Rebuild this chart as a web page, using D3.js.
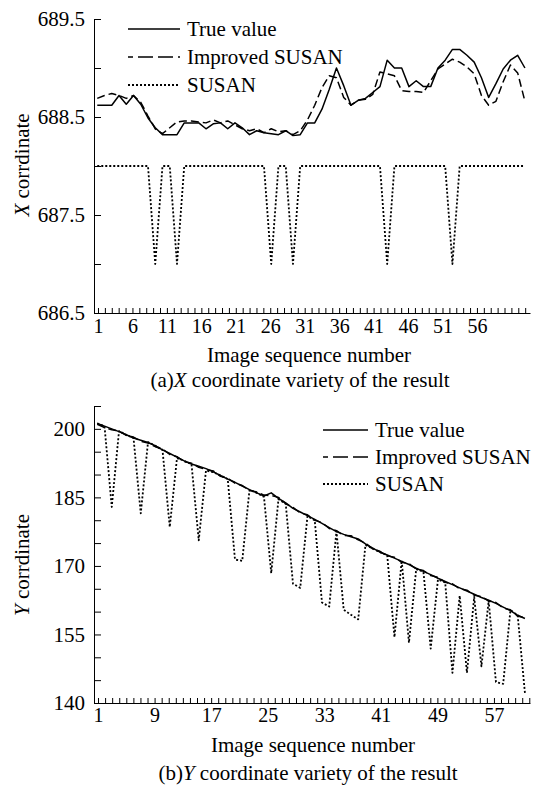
<!DOCTYPE html>
<html><head><meta charset="utf-8">
<script src="https://cdn.jsdelivr.net/npm/d3@7"></script>
<style>
body{margin:0;background:#fff}
svg{display:block}
text{font-family:"Liberation Serif","Times New Roman",serif;fill:#000}
</style>
</head><body>
<svg id="c" width="536" height="788"></svg>
<script>
const imageNo = [1,2,3,4,5,6,7,8,9,10,11,12,13,14,15,16,17,18,19,20,21,22,23,24,25,26,27,28,29,30,
  31,32,33,34,35,36,37,38,39,40,41,42,43,44,45,46,47,48,49,50,51,52,53,54,55,56,57,58,59,60];

// (a) X coordinate
const xTrueA = [688.62,688.62,688.62,688.72,688.63,688.72,688.63,688.49,688.39,688.32,
  688.32,688.32,688.44,688.44,688.44,688.38,688.43,688.44,688.38,688.44,
  688.39,688.32,688.36,688.34,688.33,688.32,688.36,688.31,688.32,688.44,
  688.44,688.58,688.78,689.00,688.82,688.62,688.67,688.69,688.75,688.81,
  689.08,689.00,689.00,688.81,688.87,688.81,688.81,689.00,689.08,689.19,
  689.19,689.13,689.06,688.90,688.70,688.84,688.99,689.08,689.13,689.00];
const xImprovedA = [688.69,688.72,688.74,688.72,688.69,688.72,688.65,688.51,688.38,688.33,
  688.39,688.45,688.46,688.46,688.45,688.44,688.47,688.44,688.46,688.42,
  688.38,688.36,688.38,688.34,688.38,688.35,688.36,688.32,688.36,688.47,
  688.62,688.80,688.92,688.90,688.70,688.62,688.67,688.68,688.73,688.96,
  688.94,688.92,688.77,688.76,688.76,688.75,688.87,688.99,689.04,689.09,
  689.06,689.01,688.94,688.72,688.62,688.66,688.86,689.03,688.95,688.66];
const xSusanA = [688,688,688,688,688,688,688,688,687,688,
  688,687,688,688,688,688,688,688,688,688,
  688,688,688,688,687,688,688,687,688,688,
  688,688,688,688,688,688,688,688,688,688,
  687,688,688,688,688,688,688,688,688,687,
  688,688,688,688,688,688,688,688,688,688];

// (b) Y coordinate
const yTrueB = [201.2,200.6,200.0,199.4,198.7,198.0,197.5,197.0,196.3,195.4,
  194.6,193.8,193.0,192.3,191.8,191.3,190.6,189.8,189.0,188.3,
  187.5,186.7,186.0,185.3,186.0,184.8,183.8,182.6,181.8,181.0,
  180.2,179.3,178.4,177.5,176.9,176.4,175.9,174.8,173.9,173.0,
  172.4,171.7,171.0,170.3,169.5,168.8,168.1,167.3,166.6,165.9,
  165.2,164.5,163.8,163.1,162.5,161.8,161.0,160.2,159.2,158.5];
const yImprovedB = [201.0,200.3,199.8,199.5,198.6,198.2,197.3,196.9,196.1,195.6,
  194.4,193.9,192.8,192.5,191.6,191.1,190.8,189.6,189.2,188.1,
  187.6,186.5,186.2,185.5,185.4,185.0,183.6,182.8,181.6,181.2,
  180.0,179.5,178.2,177.7,176.7,176.6,175.7,175.0,173.7,173.2,
  172.2,171.9,170.8,170.5,169.3,169.0,167.9,167.5,166.4,166.1,
  165.0,164.7,163.6,163.3,162.3,162.0,160.8,160.4,159.0,158.7];
const ySusanB = [201.2,200.6,182.9,199.5,198.7,198.0,181.5,197.1,196.3,195.4,
  178.5,193.6,193.0,192.3,175.6,190.9,190.5,189.8,189.0,171.4,
  171.1,186.6,186.0,185.1,168.4,184.6,183.6,166.1,165.2,180.9,
  180.0,162.0,161.1,177.6,160.4,159.3,158.3,174.6,173.8,173.0,
  172.4,154.4,171.2,153.2,169.3,168.7,151.9,167.0,166.4,146.6,
  163.5,146.6,163.2,148.0,162.4,144.6,144.2,160.3,159.2,142.2];

const seriesNames = ["True value","Improved SUSAN","SUSAN"];
const yTicksA = [686.5,687,687.5,688,688.5,689,689.5];
const yTickLabelsA = [686.5,687.5,688.5,689.5];
const seqTicksA = d3.range(1,64);
const seqLabelsA = [1,6,11,16,21,26,31,36,41,46,51,56];
const yTicksB = [140,145,150,155,160,165,170,175,180,185,190,195,200,205];
const yTickLabelsB = [140,155,170,185,200];
const seqTicksB = d3.range(1,63);
const seqLabelsB = [1,9,17,25,33,41,49,57];

const styles = [
  {dash:null, w:1.5},
  {dash:"8,4", w:1.5},
  {dash:"2,2", w:1.8}
];

const svg = d3.select("#c");

function panel(o){
  const g = svg.append("g");
  const x = d3.scaleLinear().domain([0.55, 60.7]).range([94, 530]);
  const xAxisScale = d3.scaleLinear().domain(o.axisDomain).range([94, 530]);
  const y = d3.scaleLinear().domain(o.yDomain).range(o.yRange);

  // y axis
  const ya = d3.axisLeft(y).tickValues(o.yTicks).tickSize(-7).tickSizeOuter(0).tickPadding(9)
    .tickFormat(v => o.yLabels.includes(v) ? o.yFmt(v) : "");
  const yg = g.append("g").attr("transform","translate(94,0)").call(ya);
  yg.attr("font-family",null).attr("font-size",null);
  yg.selectAll("text").attr("font-size",21);
  yg.selectAll("path,line").attr("stroke","#000").attr("stroke-width",1);

  // x axis
  const xa = d3.axisBottom(xAxisScale).tickValues(o.xTicks).tickSize(-5).tickSizeOuter(0).tickPadding(o.xPad)
    .tickFormat(v => o.xLabels.includes(v) ? String(v) : "");
  const xg = g.append("g").attr("transform",`translate(0,${o.yRange[0]})`).call(xa);
  xg.attr("font-family",null).attr("font-size",null);
  xg.selectAll("text").attr("font-size",20);
  xg.selectAll("path,line").attr("stroke","#000").attr("stroke-width",1);

  const line = d3.line().x((d,i)=>x(imageNo[i])).y(d=>y(d));
  o.series.forEach((s,k)=>{
    g.append("path").datum(s).attr("d",line).attr("fill","none")
      .attr("stroke","#000").attr("stroke-width",styles[k].w)
      .attr("stroke-dasharray",styles[k].dash).attr("stroke-linejoin","round");
  });

  // legend
  seriesNames.forEach((n,k)=>{
    const ly = o.legY[k];
    g.append("line").attr("x1",o.legX[0]).attr("x2",o.legX[1]).attr("y1",ly).attr("y2",ly)
      .attr("stroke","#000").attr("stroke-width",styles[k].w)
      .attr("stroke-dasharray", k===1 ? "15,5" : styles[k].dash)
      .attr("stroke-dashoffset", k===1 ? 10 : 0);
    g.append("text").attr("x",o.legX[1]+7).attr("y",ly).attr("dy","0.35em")
      .attr("font-size",21).text(n);
  });

  // titles
  g.append("text").attr("x",o.titleX).attr("y",o.titleY).attr("text-anchor","middle")
    .attr("font-size",21).text("Image sequence number");
  const cap = g.append("text").attr("x",o.capX).attr("y",o.capY).attr("text-anchor","middle").attr("font-size",21);
  cap.append("tspan").text(o.capPre);
  cap.append("tspan").attr("font-style","italic").text(o.axisLetter);
  cap.append("tspan").text(" coordinate variety of the result");
  const yt = g.append("text").attr("transform",`translate(${o.ytX},${o.ytY}) rotate(-90)`)
    .attr("text-anchor","middle").attr("dy","0.35em").attr("font-size",21);
  yt.append("tspan").attr("font-style","italic").text(o.axisLetter);
  yt.append("tspan").text(" corrdinate");
}

panel({
  yDomain:[686.5,689.5], yRange:[313,19], yTicks:yTicksA, yLabels:yTickLabelsA,
  yFmt:v=>v.toFixed(1), xTicks:seqTicksA, xLabels:seqLabelsA, xPad:6, axisDomain:[0.42,63.7],
  series:[xTrueA,xImprovedA,xSusanA],
  legX:[128,180], legY:[29,57,85],
  titleX:309, titleY:362, capX:300, capY:387, capPre:"(a)", axisLetter:"X",
  ytX:22, ytY:165
});
panel({
  yDomain:[140,205], yRange:[703,406], yTicks:yTicksB, yLabels:yTickLabelsB,
  yFmt:v=>String(v), xTicks:seqTicksB, xLabels:seqLabelsB, xPad:5, axisDomain:[0.43,62.1],
  series:[yTrueB,yImprovedB,ySusanB],
  legX:[323,368], legY:[430,457,484],
  titleX:313, titleY:752, capX:308, capY:780, capPre:"(b)", axisLetter:"Y",
  ytX:22, ytY:565
});
</script>
</body></html>
